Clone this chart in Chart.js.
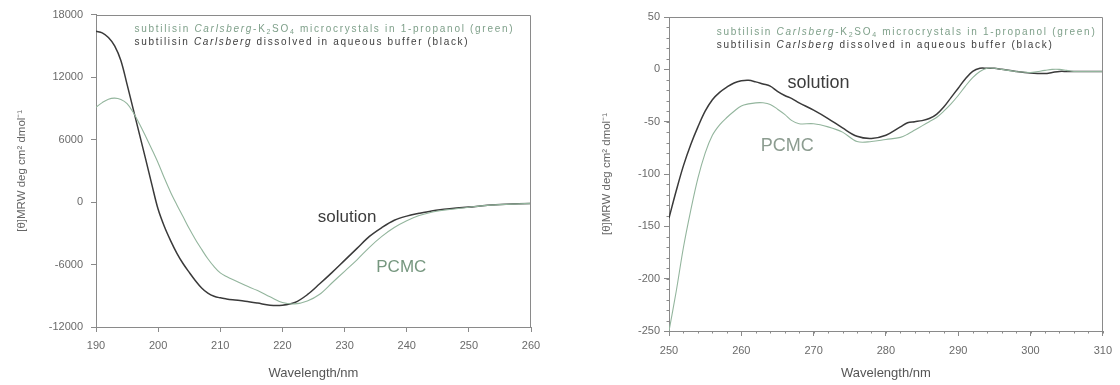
<!DOCTYPE html>
<html>
<head>
<meta charset="utf-8">
<script src="https://cdn.jsdelivr.net/npm/chart.js@4.4.1/dist/chart.umd.min.js"></script>
<style>
  html, body { margin: 0; padding: 0; background: #fff; }
  #wrap { position: relative; width: 1120px; height: 385px; }
  .box { position: absolute; top: 0; width: 560px; height: 385px; }
</style>
</head>
<body>
<div id="wrap">
  <div class="box" style="left:0"><canvas id="cd-far-uv" width="560" height="385"></canvas></div>
  <div class="box" style="left:560px"><canvas id="cd-near-uv" width="560" height="385"></canvas></div>
</div>
<script>
// far-UV spectrum (left panel), wavelengths in nm
const farUvWavelengths = [190, 191, 192, 193, 194, 195, 196, 197, 198, 199, 200, 201, 202, 203, 204, 205, 206, 207, 208, 209, 210, 211, 212, 214, 216, 218, 220, 222, 224, 226, 228, 230, 232, 234, 236, 238, 240, 242, 244, 246, 248, 250, 253, 256, 260];
const farUvSolution = [16400, 16250, 15800, 15000, 13600, 11300, 8900, 6500, 4100, 1650, -700, -2350, -3700, -4900, -5900, -6750, -7550, -8250, -8750, -9050, -9200, -9300, -9380, -9520, -9700, -9900, -9900, -9650, -8900, -7850, -6750, -5600, -4450, -3300, -2450, -1750, -1350, -1080, -850, -700, -580, -480, -320, -220, -130];
const farUvPcmc = [9100, 9550, 9880, 9980, 9850, 9450, 8600, 7500, 6300, 5050, 3750, 2300, 950, -250, -1400, -2550, -3600, -4550, -5450, -6200, -6800, -7150, -7450, -8000, -8500, -9100, -9650, -9780, -9500, -8850, -7750, -6650, -5550, -4350, -3300, -2450, -1800, -1300, -980, -780, -640, -500, -320, -220, -130];
const farUvXTicks = [190, 200, 210, 220, 230, 240, 250, 260];
const farUvYTicks = [-12000, -6000, 0, 6000, 12000, 18000];

// near-UV spectrum (right panel)
const nearUvWavelengths = [250, 251, 252, 253, 254, 255, 256, 257, 258, 259, 260, 261, 262, 263, 264, 265, 266, 267, 268, 270, 272, 274, 276, 278, 280, 282, 283, 284, 285, 286, 287, 288, 289, 290, 291, 292, 293, 294, 295, 296, 298, 300, 302, 303, 304, 305, 306, 308, 310];
const nearUvSolution = [-142, -116, -92, -72, -55, -40, -29, -22, -17, -13, -11, -10.5, -12, -14, -16, -21, -25, -28, -32, -39, -47, -56, -64, -66, -63, -55, -51, -50, -49, -47, -43, -36, -27, -18, -9, -2, 1, 1, 1, 0, -2, -3.5, -4, -3, -2, -2, -2, -2, -2];
const nearUvPcmc = [-250, -212, -170, -135, -104, -80, -63, -53, -46, -40, -35, -33, -32, -32, -33.5, -38, -43, -49, -52, -52, -55, -60, -69, -69, -67, -65, -62, -58, -54, -50, -46, -40, -33, -25, -16, -8, -2, 1, 1, 0, -2, -3, -1, 0, 0, -1, -2, -2, -2];
const nearUvXTicks = [250, 260, 270, 280, 290, 300, 310];
const nearUvYTicks = [-250, -200, -150, -100, -50, 0, 50];

const seriesNames = ['PCMC', 'solution'];
const legendLine1 = [['subtilisin ', ''], ['Carlsberg', 'i'], ['-K', ''], ['2', 's'], ['SO', ''], ['4', 's'], [' microcrystals in 1-propanol (green)', '']];
const legendLine2 = [['subtilisin ', ''], ['Carlsberg', 'i'], [' dissolved in aqueous buffer (black)', '']];
const xTitle = 'Wavelength/nm';
const yTitle = '[θ]MRW deg cm² dmol⁻¹';

const FAMILY = '"Liberation Sans", Arial, sans-serif';
Chart.defaults.font.family = FAMILY;
const AXE = '#8a8a8a';
const VERT = '#93b59d';
const NOIR = '#3a3a3a';

// texte avec espacement des lettres pour atteindre une largeur donnee
function drawSpaced(ctx, segments, x0, y0, width, color, size) {
  const chars = [];
  segments.forEach(([t, style]) => {
    for (const c of t) {
      const sub = style === 's';
      const font = (style === 'i' ? 'italic ' : '') + (sub ? size * 0.7 : size) + 'px ' + FAMILY;
      ctx.font = font;
      chars.push({ c, font, w: ctx.measureText(c).width, dy: sub ? size * 0.3 : 0 });
    }
  });
  const total = chars.reduce((s, ch) => s + ch.w, 0);
  const gap = (width - total) / (chars.length - 1);
  let x = x0;
  ctx.fillStyle = color;
  ctx.textBaseline = 'middle';
  chars.forEach(ch => {
    ctx.font = ch.font;
    ctx.fillText(ch.c, x, y0 + ch.dy);
    x += ch.w + gap;
  });
}

const cdTextPlugin = {
  id: 'cdText',
  afterDatasetsDraw(chart, args, opts) {
    const { ctx, chartArea: a } = chart;
    const x = chart.scales.x, y = chart.scales.y;
    ctx.save();
    // cadre haut et droite
    ctx.strokeStyle = AXE;
    ctx.lineWidth = 1;
    ctx.beginPath();
    ctx.moveTo(a.left, Math.round(a.top) + 0.5);
    ctx.lineTo(Math.round(a.right) - 0.5, Math.round(a.top) + 0.5);
    ctx.lineTo(Math.round(a.right) - 0.5, a.bottom);
    // petites graduations
    if (opts.minorX) {
      for (let v = x.min; v <= x.max; v += opts.minorX) {
        const px = Math.round(x.getPixelForValue(v)) + 0.5;
        ctx.moveTo(px, a.bottom); ctx.lineTo(px, a.bottom + 2.5);
      }
    }
    if (opts.minorY) {
      for (let v = y.min; v <= y.max; v += opts.minorY) {
        const py = Math.round(y.getPixelForValue(v)) + 0.5;
        ctx.moveTo(a.left, py); ctx.lineTo(a.left - 2.5, py);
      }
    }
    ctx.stroke();
    // etiquettes des courbes
    opts.labels.forEach(l => {
      ctx.font = l.size + 'px ' + FAMILY;
      ctx.fillStyle = l.color;
      ctx.textBaseline = 'middle';
      ctx.fillText(l.text, x.getPixelForValue(l.x), y.getPixelForValue(l.y));
    });
    // legende en deux lignes
    opts.legend.forEach(l => {
      drawSpaced(ctx, l.segments, x.getPixelForValue(l.x), y.getPixelForValue(l.y), l.width, l.color, 10);
    });
    ctx.restore();
  }
};

function creerGraphique(id, p) {
  const points = vals => p.wavelengths.map((w, i) => ({ x: w, y: vals[i] }));
  return new Chart(document.getElementById(id), {
    type: 'line',
    data: {
      datasets: [
        { label: seriesNames[0], data: points(p.pcmc), borderColor: VERT, borderWidth: 1.1 },
        { label: seriesNames[1], data: points(p.solution), borderColor: NOIR, borderWidth: 1.5 },
      ],
    },
    options: {
      responsive: false,
      animation: false,
      events: [],
      layout: { padding: p.padding },
      elements: { point: { radius: 0 }, line: { tension: 0.35 } },
      plugins: {
        legend: { display: false },
        tooltip: { enabled: false },
        cdText: p.texts,
      },
      scales: {
        x: {
          type: 'linear', min: p.xTicks[0], max: p.xTicks[p.xTicks.length - 1],
          afterBuildTicks: s => { s.ticks = p.xTicks.map(v => ({ value: v })); },
          afterFit: s => { s.height = p.xHeight; },
          ticks: { color: '#6a6a6a', font: { size: 11 }, padding: p.xTickPad, maxRotation: 0, callback: v => String(v) },
          grid: { drawOnChartArea: false, tickLength: 5, color: AXE },
          border: { color: AXE },
          title: { display: true, text: xTitle, color: '#555', font: { size: 13 }, padding: { top: 0, bottom: 4 } },
        },
        y: {
          type: 'linear', min: p.yTicks[0], max: p.yTicks[p.yTicks.length - 1],
          afterBuildTicks: s => { s.ticks = p.yTicks.map(v => ({ value: v })); },
          afterFit: s => { s.width = p.yWidth; },
          ticks: { color: '#6a6a6a', font: { size: 11 }, padding: p.yTickPad, callback: v => String(v) },
          grid: { drawOnChartArea: false, tickLength: 5, color: AXE },
          border: { color: AXE },
          title: { display: true, text: yTitle, color: '#666', font: { size: 11.5 }, padding: { top: p.yTitlePad, bottom: 0 } },
        },
      },
    },
    plugins: [cdTextPlugin],
  });
}

creerGraphique('cd-far-uv', {
  wavelengths: farUvWavelengths, solution: farUvSolution, pcmc: farUvPcmc,
  xTicks: farUvXTicks, yTicks: farUvYTicks,
  padding: { left: 0, right: 29, top: 14, bottom: 0 },
  xHeight: 58, yWidth: 96, xTickPad: 7, yTickPad: 8, yTitlePad: 15,
  texts: {
    labels: [
      { text: 'solution', x: 225.7, y: -1480, size: 17, color: '#3c3c3c' },
      { text: 'PCMC', x: 235.1, y: -6300, size: 17, color: '#76977f' },
    ],
    legend: [
      { segments: legendLine1, x: 196.2, y: 16570, width: 378, color: '#7fa08a' },
      { segments: legendLine2, x: 196.2, y: 15320, width: 333, color: '#404040' },
    ],
  },
});

creerGraphique('cd-near-uv', {
  wavelengths: nearUvWavelengths, solution: nearUvSolution, pcmc: nearUvPcmc,
  xTicks: nearUvXTicks, yTicks: nearUvYTicks,
  padding: { left: 0, right: 13, top: 17, bottom: 0 },
  xHeight: 54, yWidth: 109, xTickPad: 8, yTickPad: 4, yTitlePad: 40,
  texts: {
    minorX: 2, minorY: 10,
    labels: [
      { text: 'solution', x: 266.4, y: -13.4, size: 18, color: '#3c3c3c' },
      { text: 'PCMC', x: 262.7, y: -73.5, size: 18, color: '#8c9c90' },
    ],
    legend: [
      { segments: legendLine1, x: 256.6, y: 35.8, width: 378, color: '#7fa08a' },
      { segments: legendLine2, x: 256.6, y: 22.9, width: 335, color: '#404040' },
    ],
  },
});
</script>
</body>
</html>
